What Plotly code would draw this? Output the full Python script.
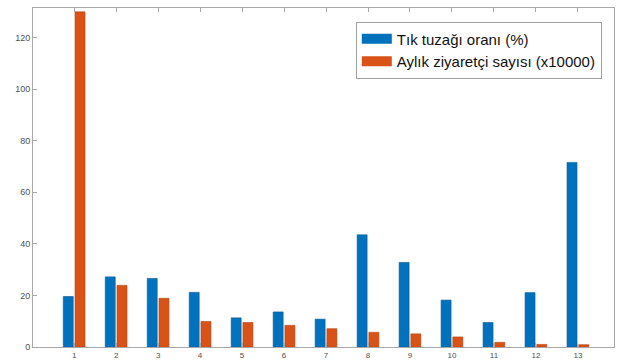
import plotly.graph_objects as go

categories = [1, 2, 3, 4, 5, 6, 7, 8, 9, 10, 11, 12, 13]
tik_tuzagi = [19.6, 27.2, 26.6, 21.2, 11.3, 13.6, 10.8, 43.5, 32.8, 18.2, 9.5, 21.1, 71.6]
ziyaretci = [130, 23.9, 18.9, 9.9, 9.5, 8.4, 7.1, 5.7, 5.1, 3.9, 1.8, 1.0, 0.9]
series_names = ["Tık tuzağı oranı (%)", "Aylık ziyaretçi sayısı (x10000)"]
y_ticks = [0, 20, 40, 60, 80, 100, 120]

blue = "#0072BD"
orange = "#D95319"

fig = go.Figure()
fig.add_trace(go.Bar(x=categories, y=tik_tuzagi, name=series_names[0],
                     legendgroup="a", showlegend=False,
                     marker=dict(color=blue, line=dict(color="#0A5A94", width=0.6))))
fig.add_trace(go.Bar(x=categories, y=ziyaretci, name=series_names[1],
                     legendgroup="b", showlegend=False,
                     marker=dict(color=orange, line=dict(color="#B8420F", width=0.6))))
# legend entries with wide swatches (MATLAB style)
fig.add_trace(go.Scatter(x=[None], y=[None], mode="lines", name=series_names[0],
                         legendgroup="a", line=dict(color=blue, width=13)))
fig.add_trace(go.Scatter(x=[None], y=[None], mode="lines", name=series_names[1],
                         legendgroup="b", line=dict(color=orange, width=13)))

axis_color = "#a8a8a8"
fig.update_layout(
    width=619, height=360,
    margin=dict(l=33, r=5, t=8, b=13, autoexpand=False),
    paper_bgcolor="white", plot_bgcolor="white",
    barmode="group", bargap=0.44, bargroupgap=0.15,
    font=dict(family="Liberation Sans, Arial, sans-serif", color="#404040"),
    showlegend=True,
    legend=dict(x=0.979, y=0.96, xanchor="right", yanchor="top",
                bgcolor="white", bordercolor="#a0a0a0", borderwidth=1,
                font=dict(size=15, color="#111111"),
                tracegroupgap=0, itemwidth=30, traceorder="normal"),
    xaxis=dict(range=[0.02, 13.86], tickmode="array", tickvals=categories,
               ticktext=[str(c) for c in categories],
               showline=True, linecolor=axis_color, mirror="ticks",
               ticks="inside", ticklen=4, tickcolor=axis_color,
               showgrid=False, zeroline=False, automargin=False,
               ticklabelstandoff=0,
               tickfont=dict(size=8, color="#505050")),
    yaxis=dict(range=[0, 131.5], tickmode="array", tickvals=y_ticks,
               showline=True, linecolor=axis_color, mirror=True,
               ticks="inside", ticklen=4, tickcolor=axis_color,
               showgrid=False, zeroline=False, automargin=False,
               tickfont=dict(size=9, color="#505050")),
)

fig.write_html("out.html", config={"displayModeBar": False},
               post_script="document.body.style.margin='0';document.body.style.overflow='hidden';")
